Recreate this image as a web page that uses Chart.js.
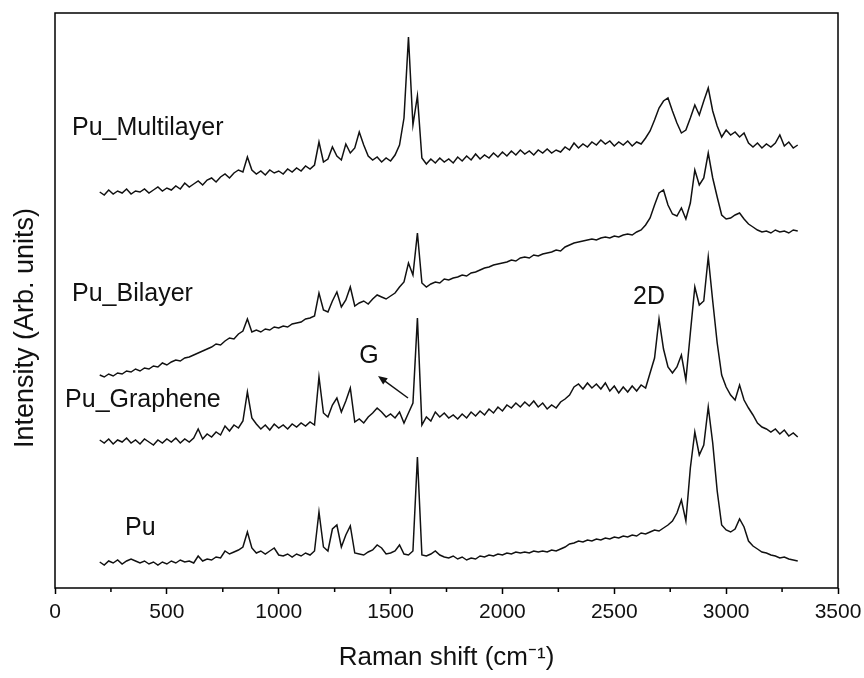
<!DOCTYPE html>
<html>
<head>
<meta charset="utf-8">
<title>Raman spectra</title>
<script src="https://cdn.jsdelivr.net/npm/chart.js@4.4.1/dist/chart.umd.min.js"></script>
<style>
  html, body { margin: 0; padding: 0; background: #fff; }
</style>
</head>
<body>
<canvas id="raman" width="864" height="678"></canvas>
<script>
// Raman shift grid (cm-1), shared by all four spectra
const SHIFT = [
    200, 220, 240, 260, 280, 300, 320, 340, 360, 380,
    400, 420, 440, 460, 480, 500, 520, 540, 560, 580,
    600, 620, 640, 660, 680, 700, 720, 740, 760, 780,
    800, 820, 840, 860, 880, 900, 920, 940, 960, 980,
    1000, 1020, 1040, 1060, 1080, 1100, 1120, 1140, 1160, 1180,
    1200, 1220, 1240, 1260, 1280, 1300, 1320, 1340, 1360, 1380,
    1400, 1420, 1440, 1460, 1480, 1500, 1520, 1540, 1560, 1580,
    1600, 1620, 1640, 1660, 1680, 1700, 1720, 1740, 1760, 1780,
    1800, 1820, 1840, 1860, 1880, 1900, 1920, 1940, 1960, 1980,
    2000, 2020, 2040, 2060, 2080, 2100, 2120, 2140, 2160, 2180,
    2200, 2220, 2240, 2260, 2280, 2300, 2320, 2340, 2360, 2380,
    2400, 2420, 2440, 2460, 2480, 2500, 2520, 2540, 2560, 2580,
    2600, 2620, 2640, 2660, 2680, 2700, 2720, 2740, 2760, 2780,
    2800, 2820, 2840, 2860, 2880, 2900, 2920, 2940, 2960, 2980,
    3000, 3020, 3040, 3060, 3080, 3100, 3120, 3140, 3160, 3180,
    3200, 3220, 3240, 3260, 3280, 3300, 3320
];

// Intensities (arb. units, offset stacked)
const MULTILAYER = [
    371, 368, 373, 369, 372, 370, 374, 369, 372, 371,
    374, 370, 373, 376, 372, 375, 373, 377, 374, 380,
    376, 379, 382, 378, 383, 385, 381, 386, 389, 385,
    390, 393, 391, 406, 393, 389, 392, 388, 393, 390,
    392, 389, 394, 391, 395, 392, 397, 394, 398, 421,
    401, 404, 416, 407, 403, 419, 410, 415, 431, 418,
    407, 403, 406, 401, 405, 402, 408, 418, 445, 526,
    438, 467, 405, 399, 404, 400, 405, 401, 404, 400,
    406, 402, 407, 403, 409, 404, 408, 405, 410, 406,
    411, 407, 412, 408, 413, 409, 412, 408, 413, 410,
    414, 410, 413, 411, 416, 413, 420, 415, 419, 416,
    421, 418, 423, 419, 422, 417, 421, 418, 422, 417,
    421, 419, 425, 432, 443, 455, 462, 465, 452, 440,
    430, 433, 445, 458, 448, 462, 475, 452, 437, 426,
    433, 428, 431, 426, 430, 420, 416, 420, 415, 419,
    416, 420, 428, 417, 421, 415, 418
];

const BILAYER = [
    188, 186, 189, 187, 190, 189, 192, 191, 194, 192,
    195, 194, 197, 196, 200, 198, 201, 203, 202, 205,
    206, 208, 210, 212, 214, 216, 219, 218, 222, 225,
    224, 229, 232, 244, 231, 233, 231, 234, 233, 236,
    235, 237, 236, 239, 240, 241, 244, 245, 247, 270,
    253, 251, 262, 271, 256, 263, 276, 257, 260, 262,
    259, 264, 268, 266, 264, 267, 270, 276, 281, 300,
    288, 330, 280, 276, 279, 281, 280, 284, 283, 285,
    286, 288, 287, 290, 291, 293, 295, 296, 298, 299,
    300, 301, 303, 302, 305, 306, 305, 308, 307, 309,
    310, 311, 313, 312, 316, 318, 320, 321, 322, 323,
    324, 323, 325, 326, 325, 327, 326, 328, 329, 328,
    331, 333, 338, 345, 358, 370, 373, 358, 349, 347,
    355, 344, 360, 393, 378, 385, 410, 385, 366, 348,
    344, 345, 348, 350, 344, 339, 336, 333, 331, 332,
    330, 333, 331, 332, 330, 333, 332
];

const GRAPHENE = [
    123, 120, 124, 119, 123, 121, 125, 120, 123, 119,
    124, 121, 118, 123, 120, 124, 121, 125, 120, 124,
    121, 125, 134, 124, 129, 126, 131, 128, 137, 132,
    138, 135, 142, 171, 145, 139, 134, 138, 133, 139,
    135, 138, 134, 139, 136, 140, 137, 141, 138, 186,
    150, 146, 158, 165, 151, 162, 175, 141, 144, 140,
    146, 150, 155, 151, 146, 149, 145, 151, 140, 150,
    160, 245, 138, 146, 142, 151, 146, 150, 145, 148,
    144, 149, 145, 151, 147, 152, 148, 154, 150, 156,
    152, 158, 155, 160, 156, 161, 157, 162, 156, 160,
    154, 158, 155, 161, 164, 168, 176, 179, 174, 180,
    175, 179, 174, 180, 172, 177, 170, 176, 171, 177,
    172, 178, 175, 190, 205, 244, 214, 196, 190, 196,
    208, 183, 230, 276, 258, 262, 306, 262, 220, 188,
    176, 168, 163, 178, 163, 155, 148, 140, 136, 134,
    131, 134, 129, 133, 127, 130, 126
];

const PU = [
    1, -2, 2, 0, 3, -1, 2, 4, 2, 0,
    2, -1, 1, -2, 1, -1, 2, 0, 3, 1,
    2, 0, 7, 2, 4, 3, 6, 5, 12, 9,
    11, 13, 16, 31, 15, 10, 12, 9, 12, 15,
    8, 7, 9, 6, 9, 7, 10, 8, 12, 51,
    16, 12, 34, 38, 16, 28, 37, 10, 9, 8,
    11, 13, 18, 15, 9, 10, 12, 18, 9, 8,
    12, 106, 8, 7, 9, 12, 8, 6, 5, 7,
    4, 6, 3, 5, 4, 7, 6, 8, 7, 9,
    8, 10, 9, 11, 10, 11, 10, 12, 11, 12,
    11, 13, 12, 14, 16, 19, 20, 22, 21, 23,
    22, 24, 23, 25, 24, 26, 25, 27, 26, 28,
    27, 30, 29, 31, 33, 32, 35, 38, 42, 50,
    63, 42, 95, 131, 108, 118, 156, 120, 72, 38,
    33, 31, 34, 44, 36, 22, 17, 14, 11, 10,
    8, 7, 5, 6, 4, 3, 2
];

const MINOR_TICKS = [250, 750, 1250, 1750, 2250, 2750, 3250];

// Text notes placed in data coordinates [text, shift, intensity, align]
const NOTES = [
    ['Pu_Multilayer', 76, 435, 'left'],
    ['Pu_Bilayer', 76, 269, 'left'],
    ['Pu_Graphene', 45, 163, 'left'],
    ['Pu', 313, 35, 'left'],
    ['2D', 2655, 266, 'center'],
    ['G', 1404, 207, 'center'],
];
// Arrow from G label down to the G band: [fromShift, fromI, toShift, toI]
const G_ARROW = [1578, 165, 1444, 187];

const FONT = "'Liberation Sans', Arial, sans-serif";
const INK = '#111';

Chart.defaults.font.family = FONT;
Chart.defaults.color = INK;

const toPoints = (vals) => SHIFT.map((s, i) => ({ x: s, y: vals[i] }));

function lineSet(label, vals) {
    return {
        label: label,
        data: toPoints(vals),
        borderColor: INK,
        borderWidth: 1.5,
        pointRadius: 0,
        tension: 0,
        fill: false,
    };
}

const decorations = {
    id: 'decorations',
    afterDraw(chart) {
        const { ctx, chartArea: a, scales: { x, y } } = chart;
        ctx.save();

        // box around the plot
        ctx.strokeStyle = '#000';
        ctx.lineWidth = 1.5;
        ctx.strokeRect(a.left, a.top, a.right - a.left, a.bottom - a.top);

        // minor ticks
        ctx.beginPath();
        MINOR_TICKS.forEach(v => {
            const px = x.getPixelForValue(v);
            ctx.moveTo(px, a.bottom);
            ctx.lineTo(px, a.bottom + 4);
        });
        ctx.stroke();

        // notes
        ctx.fillStyle = INK;
        ctx.font = '25px ' + FONT;
        ctx.textBaseline = 'middle';
        NOTES.forEach(([t, sx, iy, align]) => {
            ctx.textAlign = align;
            ctx.fillText(t, x.getPixelForValue(sx), y.getPixelForValue(iy));
        });

        // arrow
        const x0 = x.getPixelForValue(G_ARROW[0]), y0 = y.getPixelForValue(G_ARROW[1]);
        const x1 = x.getPixelForValue(G_ARROW[2]), y1 = y.getPixelForValue(G_ARROW[3]);
        const ang = Math.atan2(y1 - y0, x1 - x0);
        ctx.strokeStyle = INK;
        ctx.lineWidth = 1.5;
        ctx.beginPath();
        ctx.moveTo(x0, y0);
        ctx.lineTo(x1 - 6 * Math.cos(ang), y1 - 6 * Math.sin(ang));
        ctx.stroke();
        ctx.beginPath();
        ctx.moveTo(x1, y1);
        ctx.lineTo(x1 - 10 * Math.cos(ang - 0.4), y1 - 10 * Math.sin(ang - 0.4));
        ctx.lineTo(x1 - 10 * Math.cos(ang + 0.4), y1 - 10 * Math.sin(ang + 0.4));
        ctx.closePath();
        ctx.fill();

        // y axis title
        ctx.translate(a.left - 29, a.top + 315);
        ctx.rotate(-Math.PI / 2);
        ctx.textAlign = 'center';
        ctx.font = '27px ' + FONT;
        ctx.fillText('Intensity (Arb. units)', 0, 0);
        ctx.restore();
    }
};

new Chart(document.getElementById('raman'), {
    type: 'line',
    data: {
        datasets: [
            lineSet('Pu_Multilayer', MULTILAYER),
            lineSet('Pu_Bilayer', BILAYER),
            lineSet('Pu_Graphene', GRAPHENE),
            lineSet('Pu', PU),
        ]
    },
    options: {
        responsive: false,
        animation: false,
        layout: { padding: { left: 55, right: 26, top: 13, bottom: 0 } },
        plugins: {
            legend: { display: false },
            tooltip: { enabled: false },
        },
        scales: {
            x: {
                type: 'linear',
                min: 0,
                max: 3500,
                afterFit: (scale) => {
                    scale.height = 90;
                    scale.paddingLeft = 0;
                    scale.paddingRight = 0;
                },
                border: { display: false },
                grid: {
                    drawOnChartArea: false,
                    drawTicks: true,
                    tickLength: 6,
                    tickColor: '#000',
                    tickWidth: 1.5,
                },
                ticks: {
                    stepSize: 500,
                    padding: 6,
                    maxRotation: 0,
                    color: INK,
                    font: { size: 21 },
                    callback: (v) => String(v),
                },
                title: {
                    display: true,
                    text: 'Raman shift (cm⁻¹)',
                    color: INK,
                    font: { size: 26 },
                    padding: { top: 0, bottom: 5 },
                },
            },
            y: {
                display: false,
                min: -25,
                max: 550,
            }
        }
    },
    plugins: [decorations],
});
</script>
</body>
</html>
